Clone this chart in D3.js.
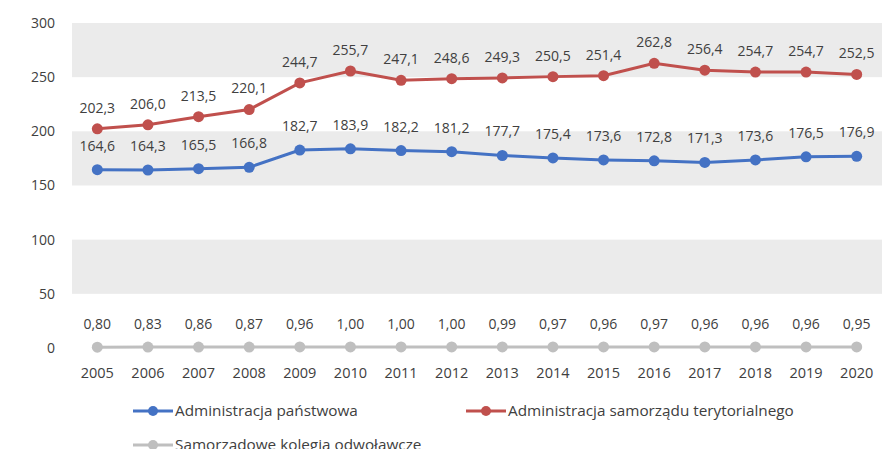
<!DOCTYPE html>
<html><head><meta charset="utf-8">
<script src="https://cdn.jsdelivr.net/npm/d3@7"></script>
<style>body{margin:0;background:#fff;}svg{display:block;font-family:"Open Sans","Liberation Sans",sans-serif;}</style>
</head><body>
<svg id="c" width="882" height="449"></svg>
<script>
const years = ["2005","2006","2007","2008","2009","2010","2011","2012","2013","2014","2015","2016","2017","2018","2019","2020"];
const panstwowa = [164.6,164.3,165.5,166.8,182.7,183.9,182.2,181.2,177.7,175.4,173.6,172.8,171.3,173.6,176.5,176.9];
const samorzad = [202.3,206.0,213.5,220.1,244.7,255.7,247.1,248.6,249.3,250.5,251.4,262.8,256.4,254.7,254.7,252.5];
const kolegia = [0.80,0.83,0.86,0.87,0.96,1.00,1.00,1.00,0.99,0.97,0.96,0.97,0.96,0.96,0.96,0.95];
const yTicks = [0,50,100,150,200,250,300];
const seriesNames = ["Administracja państwowa","Administracja samorządu terytorialnego","Samorządowe kolegia odwoławcze"];
const colors = ["#4472c4","#c0504d","#bfbfbf"];

const svg = d3.select("#c");
const x = d3.scaleBand().domain(years).range([72,882]);
const y = d3.scaleLinear().domain([0,300]).range([348,23]);
const cx = d => x(d) + x.bandwidth()/2;

for (let i = 0; i < yTicks.length-1; i++) {
  if (i % 2 === 1) {
    svg.append("rect").attr("x",72).attr("width",810)
      .attr("y",y(yTicks[i+1])).attr("height",y(yTicks[i])-y(yTicks[i+1]))
      .attr("fill","#ebebeb");
  }
}
svg.append("g").selectAll("text").data(yTicks).join("text")
  .attr("x",55).attr("y",d=>y(d)).attr("dy","0.35em").attr("text-anchor","end")
  .attr("font-size",14).attr("fill","#404040").text(d=>d);
svg.append("g").selectAll("text").data(years).join("text")
  .attr("x",d=>cx(d)).attr("y",373).attr("dy","0.35em").attr("text-anchor","middle")
  .attr("font-size",14.5).attr("fill","#404040").text(d=>d);

const fmt1 = v => d3.format(".1f")(v).replace(".",",");
const fmt2 = v => d3.format(".2f")(v).replace(".",",");
const series = [
  {vals:panstwowa, color:colors[0], fmt:fmt1, off:24},
  {vals:samorzad, color:colors[1], fmt:fmt1, off:21},
  {vals:kolegia, color:colors[2], fmt:fmt2, off:23}
];
const line = d3.line().x((d,i)=>cx(years[i])).y(d=>y(d));
series.forEach(s=>{
  const g = svg.append("g");
  g.append("path").datum(s.vals).attr("d",line).attr("fill","none")
    .attr("stroke",s.color).attr("stroke-width",3);
  g.selectAll("circle").data(s.vals).join("circle")
    .attr("cx",(d,i)=>cx(years[i])).attr("cy",d=>y(d)).attr("r",5.5).attr("fill",s.color);
  g.selectAll("text").data(s.vals).join("text")
    .attr("x",(d,i)=>cx(years[i])).attr("y",d=>y(d)-s.off).attr("dy","0.35em")
    .attr("text-anchor","middle").attr("font-size",14).attr("fill","#404040").text(d=>s.fmt(d));
});

const legend = [
  {name:seriesNames[0], color:colors[0], x:133, y:411},
  {name:seriesNames[1], color:colors[1], x:466, y:411},
  {name:seriesNames[2], color:colors[2], x:133, y:445}
];
legend.forEach(l=>{
  const g = svg.append("g");
  g.append("line").attr("x1",l.x).attr("x2",l.x+40).attr("y1",l.y).attr("y2",l.y)
    .attr("stroke",l.color).attr("stroke-width",3);
  g.append("circle").attr("cx",l.x+20).attr("cy",l.y).attr("r",5).attr("fill",l.color);
  g.append("text").attr("x",l.x+42).attr("y",l.y).attr("dy","0.35em")
    .attr("font-size",15.3).attr("fill","#404040").text(l.name);
});
</script>
</body></html>
